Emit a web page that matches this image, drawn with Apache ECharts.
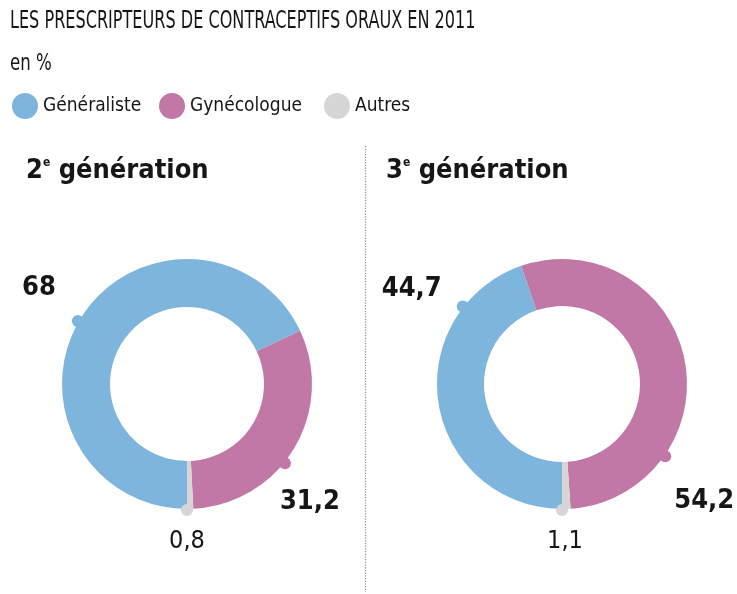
<!DOCTYPE html>
<html>
<head>
<meta charset="utf-8">
<script src="https://cdn.jsdelivr.net/npm/echarts@6/dist/echarts.min.js"></script>
<style>
  html, body { margin: 0; padding: 0; background: #fff; }
  #chart { width: 737px; height: 594px; }
</style>
</head>
<body>
<div id="chart"></div>
<script>
// Prescribers of oral contraceptives, 2011 (in %)
const categories = ['Généraliste', 'Gynécologue', 'Autres'];
const gen2Values = [68, 31.2, 0.8];
const gen3Values = [44.7, 54.2, 1.1];
const panelTitles = ['2', '3'];
const headline = 'LES PRESCRIPTEURS DE CONTRACEPTIFS ORAUX EN 2011';
const unitText = 'en %';

const COLORS = ['#7db5dc', '#c178a6', '#d6d6d6'];
const FONT = "'Liberation Sans Narrow', 'DejaVu Sans Condensed', 'Roboto Condensed', Roboto, sans-serif";
const TEXT = '#161616';

const fmt = v => String(v).replace('.', ',');

// Layout for each donut: centre, radii, and where each value's marker sits on the ring
const panels = [
  { values: gen2Values, center: [187, 384], radius: [77, 125],
    markAngles: [300, 129, 180],
    offsets: [[-39, -33], [25, 39], [0, 31]] },
  { values: gen3Values, center: [562, 384], radius: [78, 125],
    markAngles: [308, 125, 180],
    offsets: [[-51, -17], [39, 45], [3, 31]] }
];

const series = [];
const polar = [];
const angleAxis = [];
const radiusAxis = [];

panels.forEach((p, i) => {
  series.push({
    type: 'pie',
    center: p.center,
    radius: p.radius,
    startAngle: 270,
    clockwise: true,
    silent: true,
    z: 2,
    label: { show: false },
    labelLine: { show: false },
    data: categories.map((name, k) => ({
      name, value: p.values[k], itemStyle: { color: COLORS[k] }
    }))
  });

  // polar frame sharing the donut's centre, used to place the value markers
  polar.push({ center: p.center, radius: p.radius[1] });
  angleAxis.push({ polarIndex: i, type: 'value', min: 0, max: 360, startAngle: 90, clockwise: true,
    show: false });
  radiusAxis.push({ polarIndex: i, type: 'value', min: 0, max: p.radius[1], show: false });

  series.push({
    type: 'scatter',
    coordinateSystem: 'polar',
    polarIndex: i,
    clip: false,
    symbol: 'circle',
    symbolSize: 12,
    silent: true,
    z: 3,
    data: categories.map((name, k) => ({
      value: [p.radius[1] + 1, p.markAngles[k], p.values[k]],
      itemStyle: { color: COLORS[k], opacity: 1 },
      label: {
        show: true,
        position: 'inside',
        offset: p.offsets[k],
        formatter: params => fmt(params.value[2]),
        fontFamily: FONT,
        fontSize: k === 2 ? 25 : 27,
        fontWeight: k === 2 ? 'normal' : 'bold',
        color: TEXT,
        opacity: 1,
        align: 'center',
        verticalAlign: 'middle'
      }
    }))
  });
});

// one legend per category so each swatch sits at its own column
const legendCenters = [25, 172, 337];
const legend = categories.map((name, k) => ({
  data: [name],
  left: legendCenters[k] - 13,
  top: 93,
  padding: 0,
  icon: 'circle',
  itemWidth: 26,
  itemHeight: 26,
  selectedMode: false,
  textStyle: { fontFamily: FONT, fontSize: 19, color: TEXT, padding: [0, 0, 0, 0] }
}));

const chart = echarts.init(document.getElementById('chart'), null, { renderer: 'canvas' });

chart.setOption({
  backgroundColor: '#ffffff',
  animation: false,
  title: panelTitles.map((n, i) => ({
    text: '{n|' + n + '}{s|e}{t| génération}',
    left: i === 0 ? 21 : 381,
    top: 152,
    textStyle: {
      rich: {
        n: { fontFamily: FONT, fontSize: 27, fontWeight: 'bold', color: TEXT },
        s: { fontFamily: FONT, fontSize: 12, fontWeight: 'bold', color: TEXT, verticalAlign: 'top', padding: [0, 0, 12, 0] },
        t: { fontFamily: FONT, fontSize: 27, fontWeight: 'bold', color: TEXT }
      }
    }
  })),
  legend,
  polar,
  angleAxis,
  radiusAxis,
  graphic: [
    { type: 'text', x: 10, y: 10, scaleX: 0.745, silent: true,
      style: { text: headline, font: '24px ' + FONT, fill: TEXT, textVerticalAlign: 'top' } },
    { type: 'text', x: 10, y: 53, scaleX: 0.8, silent: true,
      style: { text: unitText, font: '23px ' + FONT, fill: TEXT, textVerticalAlign: 'top' } },
    { type: 'line', silent: true,
      shape: { x1: 365.5, y1: 146, x2: 365.5, y2: 592 },
      style: { stroke: '#8e8e8e', lineWidth: 1.2, lineDash: [1.2, 1.5] } }
  ],
  series
});
</script>
</body>
</html>
